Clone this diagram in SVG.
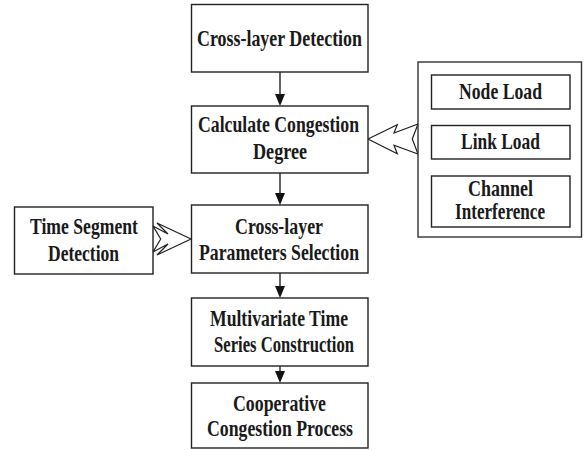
<svg xmlns="http://www.w3.org/2000/svg" width="588" height="450" viewBox="0 0 588 450">
<style>
.box{fill:#fff;stroke:#222;stroke-width:1.4}
.panel{fill:#fff;stroke:#333;stroke-width:1.4}
.t{font-family:"Liberation Serif","Times New Roman",serif;font-weight:bold;font-size:22.5px;fill:#1a1a1a;text-anchor:start}
.ln{stroke:#222;stroke-width:1.4;fill:none}
.bolt{fill:#fff;stroke:#222;stroke-width:1.2;stroke-linejoin:miter}
</style>
<defs>
<marker id="ah" markerWidth="10" markerHeight="12" refX="5" refY="12" orient="auto" markerUnits="userSpaceOnUse" viewBox="0 0 10 12">
<path d="M0,0 L10,0 L5,12 Z" fill="#111"/>
</marker>
</defs>
<rect width="588" height="450" fill="#fff"/>

<g id="connectors">
<line class="ln" x1="280" y1="72" x2="280" y2="94"/>
<path d="M275,94 L285,94 L280,106 Z" fill="#111"/>
<line class="ln" x1="280" y1="173" x2="280" y2="193"/>
<path d="M275,193 L285,193 L280,205 Z" fill="#111"/>
<line class="ln" x1="280" y1="273" x2="280" y2="286"/>
<path d="M275,286 L285,286 L280,298 Z" fill="#111"/>
<line class="ln" x1="280" y1="366" x2="280" y2="372"/>
<path d="M275,371 L285,371 L280,383 Z" fill="#111"/>
<polygon id="bolt-factors" class="bolt" points="368,139 397.3,124.7 394,133 418,124 412.3,139 418,154 394,145.3 397.3,153.7"/>
<polygon id="bolt-time" class="bolt" points="191,239 157,223 168,234 153,226 160.7,239 153,252 168,244 157,255"/>
</g>

<g id="n1">
<rect class="box" x="191.5" y="4.5" width="176.5" height="67.5"/>
<text class="t" x="197" y="45.5" textLength="165" lengthAdjust="spacingAndGlyphs">Cross-layer Detection</text>
</g>

<g id="n2">
<rect class="box" x="191.5" y="106" width="176.5" height="67"/>
<text class="t" x="198" y="132" textLength="161" lengthAdjust="spacingAndGlyphs">Calculate Congestion</text>
<text class="t" x="253" y="159" textLength="54" lengthAdjust="spacingAndGlyphs">Degree</text>
</g>

<g id="n3">
<rect class="box" x="191.5" y="205" width="176.5" height="68"/>
<text class="t" x="235" y="233.5" textLength="88" lengthAdjust="spacingAndGlyphs">Cross-layer</text>
<text class="t" x="199" y="260" textLength="160" lengthAdjust="spacingAndGlyphs">Parameters Selection</text>
</g>

<g id="n4">
<rect class="box" x="191.5" y="298" width="176.5" height="68"/>
<text class="t" x="210" y="325.5" textLength="138" lengthAdjust="spacingAndGlyphs">Multivariate Time</text>
<text class="t" x="214" y="352" textLength="140" lengthAdjust="spacingAndGlyphs">Series Construction</text>
</g>

<g id="n5">
<rect class="box" x="191.5" y="383" width="176.5" height="65"/>
<text class="t" x="233" y="410.5" textLength="93" lengthAdjust="spacingAndGlyphs">Cooperative</text>
<text class="t" x="207" y="435.5" textLength="146" lengthAdjust="spacingAndGlyphs">Congestion Process</text>
</g>

<g id="n-time">
<rect class="box" x="14.5" y="207" width="138.5" height="67"/>
<text class="t" x="30" y="233.5" textLength="108" lengthAdjust="spacingAndGlyphs">Time Segment</text>
<text class="t" x="48" y="260.5" textLength="71" lengthAdjust="spacingAndGlyphs">Detection</text>
</g>

<g id="n-factors">
<rect class="panel" x="418" y="62" width="163.5" height="175"/>
<g id="n-node-load">
<rect class="box" x="431.5" y="75" width="138.5" height="34"/>
<text class="t" x="459" y="99" textLength="83" lengthAdjust="spacingAndGlyphs">Node Load</text>
</g>
<g id="n-link-load">
<rect class="box" x="431.5" y="125.5" width="138.5" height="33.5"/>
<text class="t" x="461" y="149" textLength="79" lengthAdjust="spacingAndGlyphs">Link Load</text>
</g>
<g id="n-channel">
<rect class="box" x="431.5" y="176" width="138.5" height="51"/>
<text class="t" x="468" y="195.5" textLength="65" lengthAdjust="spacingAndGlyphs">Channel</text>
<text class="t" x="455" y="219" textLength="90" lengthAdjust="spacingAndGlyphs">Interference</text>
</g>
</g>
</svg>
